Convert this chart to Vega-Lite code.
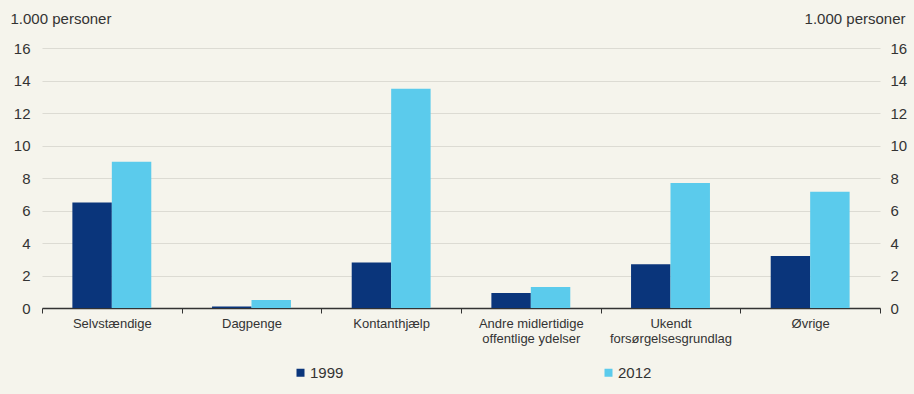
{
  "$schema": "https://vega.github.io/schema/vega-lite/v6.json",
  "width": 838,
  "height": 260,
  "autosize": {"type": "none"},
  "padding": {"left": 42, "top": 48, "right": 34, "bottom": 86},
  "background": "#f5f4ec",
  "config": {
    "font": "Liberation Sans",
    "view": {"stroke": null},
    "axis": {"labelColor": "#333333", "titleColor": "#333333", "labelFont": "Liberation Sans", "titleFont": "Liberation Sans"}
  },
  "data": {
    "values": [
      {"kategori": "Selvstændige", "aar": "1999", "antal": 6.5},
      {"kategori": "Selvstændige", "aar": "2012", "antal": 9.0},
      {"kategori": "Dagpenge", "aar": "1999", "antal": 0.1},
      {"kategori": "Dagpenge", "aar": "2012", "antal": 0.5},
      {"kategori": "Kontanthjælp", "aar": "1999", "antal": 2.8},
      {"kategori": "Kontanthjælp", "aar": "2012", "antal": 13.5},
      {"kategori": "Andre midlertidige|offentlige ydelser", "aar": "1999", "antal": 0.92},
      {"kategori": "Andre midlertidige|offentlige ydelser", "aar": "2012", "antal": 1.3},
      {"kategori": "Ukendt|forsørgelsesgrundlag", "aar": "1999", "antal": 2.7},
      {"kategori": "Ukendt|forsørgelsesgrundlag", "aar": "2012", "antal": 7.7},
      {"kategori": "Øvrige", "aar": "1999", "antal": 3.2},
      {"kategori": "Øvrige", "aar": "2012", "antal": 7.15}
    ]
  },
  "encoding": {
    "x": {
      "field": "kategori",
      "type": "nominal",
      "sort": null,
      "scale": {"paddingInner": 0, "paddingOuter": 0},
      "axis": {
        "title": null,
        "labelAngle": 0,
        "labelExpr": "split(datum.label, '|')",
        "labelFontSize": 13,
        "labelLineHeight": 15,
        "labelPadding": 4,
        "tickBand": "extent",
        "tickSize": 5,
        "tickColor": "#333333",
        "domainColor": "#333333",
        "domainWidth": 1.5,
        "grid": false,
        "labelBaseline": "top"
      }
    },
    "xOffset": {"field": "aar", "type": "nominal", "scale": {"paddingInner": 0, "paddingOuter": 0.77}},
    "y": {"field": "antal", "type": "quantitative", "scale": {"domain": [0, 16], "nice": false}}
  },
  "layer": [
    {
      "mark": {"type": "bar"},
      "encoding": {
        "y": {
          "field": "antal",
          "type": "quantitative",
          "scale": {"domain": [0, 16], "nice": false},
          "axis": {
            "orient": "left",
            "values": [0, 2, 4, 6, 8, 10, 12, 14, 16],
            "title": "1.000 personer",
            "titleAngle": 0,
            "titleAlign": "left",
            "titleBaseline": "alphabetic",
            "titleX": -32,
            "titleY": -25,
            "titleFontSize": 15,
            "titleFontWeight": "normal",
            "labelFontSize": 15,
            "labelPadding": 12,
            "ticks": false,
            "tickSize": 0,
            "domain": false,
            "grid": true,
            "gridColor": "#dcdbd3",
            "gridWidth": 1
          }
        },
        "color": {
          "field": "aar",
          "type": "nominal",
          "scale": {"domain": ["1999", "2012"], "range": ["#0a357b", "#5bcbec"]},
          "legend": {
            "title": null,
            "orient": "none",
            "direction": "horizontal",
            "legendX": 251,
            "legendY": 317,
            "symbolType": "square",
            "symbolSize": 64,
            "symbolStrokeWidth": 0,
            "labelFontSize": 15,
            "labelColor": "#333333",
            "labelOffset": 2,
            "columnPadding": 257
          }
        }
      }
    },
    {
      "mark": {"type": "bar", "opacity": 0},
      "encoding": {
        "y": {
          "field": "antal",
          "type": "quantitative",
          "scale": {"domain": [0, 16], "nice": false},
          "axis": {
            "orient": "right",
            "values": [0, 2, 4, 6, 8, 10, 12, 14, 16],
            "title": "1.000 personer",
            "titleAngle": 0,
            "titleAlign": "right",
            "titleBaseline": "alphabetic",
            "titleX": 25,
            "titleY": -25,
            "titleFontSize": 15,
            "titleFontWeight": "normal",
            "labelFontSize": 15,
            "labelPadding": 10,
            "ticks": false,
            "tickSize": 0,
            "domain": false,
            "grid": false
          }
        }
      }
    }
  ],
  "resolve": {"scale": {"y": "shared"}, "axis": {"y": "independent"}}
}
